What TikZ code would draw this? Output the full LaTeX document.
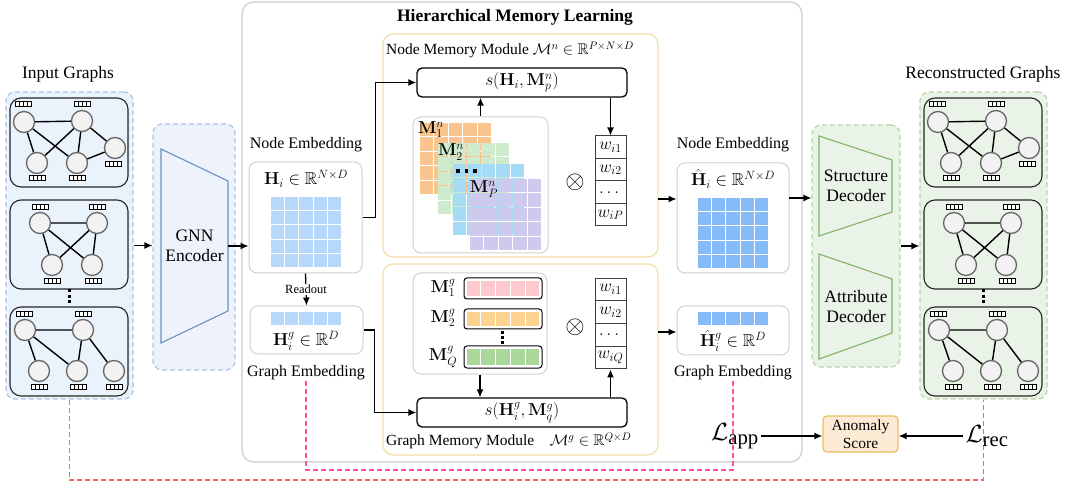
\RequirePackage{fix-cm}
\documentclass[tikz,border=0pt]{standalone}
\usepackage{amsmath,amssymb}
\usepackage[no-math]{fontspec}
\setmainfont{Liberation Serif}
\usetikzlibrary{arrows.meta,calc}

\definecolor{inbg}{HTML}{EAF2FC}
\definecolor{inbd}{HTML}{ABC6E8}
\definecolor{encbg}{HTML}{EEF3FB}
\definecolor{encbd}{HTML}{6C8EBF}
\definecolor{recbg}{HTML}{EAF3E7}
\definecolor{recbd}{HTML}{B5D6A7}
\definecolor{decbd}{HTML}{82B366}
\definecolor{hmlbd}{HTML}{CCCCCC}
\definecolor{modbd}{HTML}{F3DFA6}
\definecolor{embbd}{HTML}{D0D0D0}
\definecolor{hcell}{HTML}{B8D8FB}
\definecolor{hhcell}{HTML}{85BCF8}
\definecolor{orcell}{HTML}{FAC48E}
\definecolor{grcell}{HTML}{CFEBCD}
\definecolor{blcell}{HTML}{A6DBF6}
\definecolor{pucell}{HTML}{CDCAEE}
\definecolor{pkcell}{HTML}{FDC9CD}
\definecolor{yecell}{HTML}{FCD28E}
\definecolor{gncell}{HTML}{A9D79C}
\definecolor{anbg}{HTML}{FDEBD6}
\definecolor{anbd}{HTML}{E8BE63}
\definecolor{pinkl}{HTML}{FF4DA6}
\definecolor{redl}{HTML}{FF6060}
\definecolor{nodefill}{HTML}{F2F2F2}
\definecolor{nodebd}{HTML}{666666}

\newcommand\fA{\fontsize{17.5}{20}\selectfont}
\newcommand\fB{\fontsize{16}{18}\selectfont}
\newcommand\fM{\fontsize{17.28}{20}\selectfont}
\newcommand\fC{\fontsize{15.5}{17}\selectfont}
\newcommand\fW{\fontsize{17.28}{20}\selectfont}

% x0 y0 cols rows w h color
\newcommand\cellgrid[7]{%
  \foreach \ii in {1,...,#3}{\foreach \jj in {1,...,#4}{%
    \fill[#7] ({#1+(\ii-1)*#5+0.6},{#2+(\jj-1)*#6+0.6}) rectangle ++({#5-1.2},{#6-1.2});}}}

\tikzset{
  arr/.style={-{Latex[length=8pt,width=7pt]}, line width=1.3pt},
  cont/.style 2 args={draw=#2, fill=#1, dash pattern=on 5pt off 3pt, line width=1.2pt, rounded corners=9pt, inner sep=0},
  gbox/.style={draw=black!85, line width=1.1pt, rounded corners=11pt, fill=#1, inner sep=0, minimum width=118pt, minimum height=89pt},
  gn/.style={circle, draw=nodebd, fill=nodefill, line width=1.3pt, minimum size=21pt, inner sep=0},
  ge/.style={line width=1.4pt},
  embbox/.style={draw=embbd, line width=1pt, rounded corners=8pt, fill=white, inner sep=0},
  modbox/.style={draw=modbd, line width=1.2pt, rounded corners=10pt, inner sep=0},
  sbox/.style={draw=black, line width=1.3pt, rounded corners=5pt, inner sep=0, minimum width=210pt, minimum height=29pt},
  wcell/.style={draw=black!75, line width=1pt, minimum width=31pt, inner sep=0},
  wtxt/.style={font=\fW, inner sep=0},
  bar/.style={draw=black, line width=1pt, rounded corners=3pt, inner sep=0, minimum width=78pt},
  lbl/.style={font=\fA, inner sep=1pt},
  lblb/.style={font=\fB, inner sep=1pt},
  mth/.style={font=\fM, inner sep=0.5pt},
  mlb/.style={font=\fM, inner sep=0pt},
  pinkd/.style={draw=pinkl, line width=1.4pt, dash pattern=on 5pt off 3pt},
  redd/.style={draw=redl, line width=1.4pt, dash pattern=on 5pt off 3pt},
  tagpic/.pic={
    \draw[line width=0.9pt, fill=white] (-8,-2.5) rectangle (8,2.5);
    \foreach \k in {-4,0,4} \draw[line width=0.7pt] (\k,-2.5) -- (\k,2.5);
  }
}

\newcommand\graphset[3]{%
\begin{scope}[xshift=#2pt]
  \node[gbox=#3] (#1g1) at (69,142.5) {};
  \node[gbox=#3] (#1g2) at (69,244.5) {};
  \node[gbox=#3] (#1g3) at (69,351.5) {};
  % graph 1
  \node[gn] (#1a1) at (24,122) {};
  \node[gn] (#1a2) at (82,121) {};
  \node[gn] (#1a3) at (115,148) {};
  \node[gn] (#1a4) at (37,163) {};
  \node[gn] (#1a5) at (77,163) {};
  \draw[ge] (#1a1) -- (#1a2) (#1a1) -- (#1a4) (#1a1) -- (#1a5) (#1a2) -- (#1a4)
            (#1a2) -- (#1a5) (#1a2) -- (#1a3) (#1a5) -- (#1a3);
  \pic at (23,104) {tagpic}; \pic at (82,104) {tagpic}; \pic at (113,164) {tagpic};
  \pic at (37,178) {tagpic}; \pic at (77,178) {tagpic};
  % graph 2
  \node[gn] (#1b1) at (40,223) {};
  \node[gn] (#1b2) at (97,223) {};
  \node[gn] (#1b3) at (52,265) {};
  \node[gn] (#1b4) at (92,265) {};
  \draw[ge] (#1b1) -- (#1b2) (#1b1) -- (#1b3) (#1b1) -- (#1b4) (#1b2) -- (#1b3) (#1b2) -- (#1b4);
  \pic at (40,207) {tagpic}; \pic at (97,207) {tagpic};
  \pic at (52,281) {tagpic}; \pic at (93,281) {tagpic};
  % dots
  \fill (67.5,289.5) rectangle +(3,3);
  \fill (67.5,295) rectangle +(3,3);
  \fill (67.5,300.5) rectangle +(3,3);
  % graph 3
  \node[gn] (#1c1) at (25,330) {};
  \node[gn] (#1c2) at (83,330) {};
  \node[gn] (#1c3) at (39,371) {};
  \node[gn] (#1c4) at (77,371) {};
  \node[gn] (#1c5) at (114,371) {};
  \draw[ge] (#1c1) -- (#1c2) (#1c1) -- (#1c3) (#1c1) -- (#1c4) (#1c2) -- (#1c4) (#1c2) -- (#1c5);
  \pic at (24,314) {tagpic}; \pic at (83,314) {tagpic};
  \pic at (39,387) {tagpic}; \pic at (78,387) {tagpic}; \pic at (114,387) {tagpic};
\end{scope}}

\begin{document}
\begin{tikzpicture}[x=1pt,y=-1pt]
\useasboundingbox (0,0) rectangle (1072,489);

% ===== big box =====
\node[draw=hmlbd, line width=1.2pt, rounded corners=12pt, minimum width=560pt, minimum height=460pt, inner sep=0] (hml) at (522,232) {};
\node[font=\bfseries\fA] (title) at (515,17) {Hierarchical Memory Learning};

% ===== dashed loss lines =====
\coordinate (pk) at (0,470);
\coordinate (rk) at (0,480);

% ===== input graphs =====
\node[lbl] (inl) at (68,74) {Input Graphs};
\node[cont={inbg}{inbd}, minimum width=127pt, minimum height=307pt] (incont) at (69.5,245.5) {};
\graphset{in}{0}{inbg}

% ===== encoder =====
\node[cont={encbg}{inbd}, minimum width=82pt, minimum height=246pt] (enccont) at (194,247) {};
\draw[draw=encbd, line width=1.1pt] (161,149) -- (228,181) -- (228,311) -- (161,343) -- cycle;
\node[font=\fA, align=center] (enc) at (194.5,246) {GNN\\Encoder};
\coordinate (encR) at (228,246);

% ===== node embedding =====
\node[lblb] (nembl) at (306,145) {Node Embedding};
\node[embbox, minimum width=113pt, minimum height=111pt] (nemb) at (305.5,217.5) {};
\node[mth] (nembm) at (306,179) {$\mathbf{H}_i\in\mathbb{R}^{N\times D}$};
\cellgrid{270}{196}{5}{5}{14.4}{14.4}{hcell}

% ===== graph embedding =====
\node[embbox, minimum width=113pt, minimum height=48pt] (gemb) at (306.5,330) {};
\cellgrid{270}{311.5}{5}{1}{14.4}{14.4}{hcell}
\node[mth] (gembm) at (306,341) {$\mathbf{H}_i^g\in\mathbb{R}^D$};
\node[lblb] (gembl) at (306,373) {Graph Embedding};

% ===== node memory module =====
\node[modbox, minimum width=275pt, minimum height=223pt] (nmod) at (520.5,145.5) {};
\node[font=\fC, anchor=west, inner sep=0] (nmodl) at (386,50) {Node Memory Module $\mathcal{M}^n\in\mathbb{R}^{P\times N\times D}$};
\node[sbox] (sn) at (522,82.5) {};
\node[mth] (snt) at (sn) {$s(\mathbf{H}_i,\mathbf{M}_p^n)$};
\node[embbox, minimum width=135pt, minimum height=136pt] (mstack) at (480.5,185) {};
\cellgrid{419}{122}{5}{5}{14.6}{14.6}{orcell}
\cellgrid{437}{142}{5}{5}{14.6}{14.6}{grcell}
\cellgrid{452}{163}{5}{5}{14.6}{14.6}{blcell}
\cellgrid{469}{178}{5}{5}{14.6}{14.6}{pucell}
\node[mlb] (m1n) at (431,129.5) {$\mathbf{M}_1^n$};
\node[mlb] (m2n) at (451,152) {$\mathbf{M}_2^n$};
\fill (456,169.5) rectangle +(3.5,3.5);
\fill (464.5,169.5) rectangle +(3.5,3.5);
\fill (473,169.5) rectangle +(3.5,3.5);
\node[mlb] (mpn) at (484,189) {$\mathbf{M}_P^n$};
\node[font=\fontsize{24.88}{26}\selectfont, inner sep=0] (otn) at (575,182) {$\otimes$};
\node[wcell, minimum height=22.5pt] (wn1) at (610.5,147.25) {};
\node[wcell, minimum height=22.5pt] (wn2) at (610.5,169.75) {};
\node[wcell, minimum height=22.5pt] (wn3) at (610.5,192.25) {};
\node[wcell, minimum height=22.5pt] (wn4) at (610.5,214.75) {};
\node[wtxt] (wn1t) at (wn1) {$w_{i1}$};
\node[wtxt] (wn2t) at (wn2) {$w_{i2}$};
\node[wtxt] (wn3t) at (wn3) {$\dots$};
\node[wtxt] (wn4t) at (wn4) {$w_{iP}$};

\draw[arr] (nemb.east) -- ++(13,0) |- (sn.west);
\draw[arr] (mstack.north) -- (mstack.north |- sn.south);
\draw[arr] (sn.south -| wn1.north) -- (wn1.north);

% ===== graph memory module =====
\node[modbox, minimum width=275pt, minimum height=191pt] (gmod) at (520.5,359.5) {};
\node[font=\fC, anchor=west, inner sep=0] (gmodl) at (386,441) {Graph Memory Module\quad$\mathcal{M}^g\in\mathbb{R}^{Q\times D}$};
\node[embbox, minimum width=134pt, minimum height=101pt] (gstack) at (480,323.5) {};
\node[bar, minimum height=21pt] (bar1) at (503,288.5) {};
\node[bar, minimum height=20pt] (bar2) at (503,319) {};
\node[bar, minimum height=22pt] (bar3) at (503,357) {};
\cellgrid{466}{280.2}{5}{1}{14.8}{16.8}{pkcell}
\cellgrid{466}{311.2}{5}{1}{14.8}{15.8}{yecell}
\cellgrid{466}{348.2}{5}{1}{14.8}{17.8}{gncell}
\node[mlb] (m1g) at (443,288) {$\mathbf{M}_1^g$};
\node[mlb] (m2g) at (443,318) {$\mathbf{M}_2^g$};
\node[mlb] (mqg) at (443,357) {$\mathbf{M}_Q^g$};
\fill (500.5,331) rectangle +(3,3);
\fill (500.5,336) rectangle +(3,3);
\fill (500.5,341) rectangle +(3,3);
\node[font=\fontsize{24.88}{26}\selectfont, inner sep=0] (otg) at (575,327) {$\otimes$};
\node[wcell, minimum height=22.75pt] (wg1) at (610.5,289.4) {};
\node[wcell, minimum height=22.75pt] (wg2) at (610.5,312.1) {};
\node[wcell, minimum height=22.75pt] (wg3) at (610.5,334.9) {};
\node[wcell, minimum height=22.75pt] (wg4) at (610.5,357.6) {};
\node[wtxt] (wg1t) at (wg1) {$w_{i1}$};
\node[wtxt] (wg2t) at (wg2) {$w_{i2}$};
\node[wtxt] (wg3t) at (wg3) {$\dots$};
\node[wtxt] (wg4t) at (wg4) {$w_{iQ}$};
\node[sbox] (sg) at (522,412.5) {};
\node[mth] (sgt) at (sg) {$s(\mathbf{H}_i^g,\mathbf{M}_q^g)$};

\draw[arr] (gemb.east) -- ++(11,0) |- (sg.west);
\draw[arr] (gstack.south) -- (gstack.south |- sg.north);
\draw[arr] (sg.north -| wg4.south) -- (wg4.south);

% readout
\draw[arr] (nemb.south) -- (gemb.north) node[midway, fill=white, inner sep=1pt, font=\fontsize{12.5}{14}\selectfont] (rdo) {Readout};

% ===== reconstructed embeddings =====
\node[lblb] (hnembl) at (733,145) {Node Embedding};
\node[embbox, minimum width=112pt, minimum height=110pt] (hnemb) at (733,218) {};
\node[mth] (hnembm) at (733,179) {$\hat{\mathbf{H}}_i\in\mathbb{R}^{N\times D}$};
\cellgrid{697}{197}{5}{5}{14.4}{14.4}{hhcell}
\node[embbox, minimum width=112pt, minimum height=49pt] (hgemb) at (733,330.5) {};
\cellgrid{697}{311.5}{5}{1}{14.4}{14.4}{hhcell}
\node[mth] (hgembm) at (733,341) {$\hat{\mathbf{H}}_i^g\in\mathbb{R}^D$};
\node[lblb] (hgembl) at (733,373) {Graph Embedding};

\coordinate (o1) at (658,199);
\draw[arr] (o1) -- (o1 -| hnemb.west);
\coordinate (o3) at (658,332);
\draw[arr] (o3) -- (o3 -| hgemb.west);

% ===== decoders =====
\node[cont={recbg}{recbd}, minimum width=88pt, minimum height=242pt] (deccont) at (856,246) {};
\draw[draw=decbd, line width=1.1pt] (819,136) -- (892,160) -- (892,212) -- (819,236) -- cycle;
\node[font=\fA, align=center] (sdec) at (856,186) {Structure\\Decoder};
\draw[draw=decbd, line width=1.1pt] (819,254) -- (892,279) -- (892,333) -- (819,359) -- cycle;
\node[font=\fA, align=center] (adec) at (856,307) {Attribute\\Decoder};
\coordinate (o2) at (789,198);
\draw[arr] (o2) -- (o2 -| deccont.west);

% ===== reconstructed graphs =====
\node[lbl] (recl) at (983,74) {Reconstructed Graphs};
\node[cont={recbg}{recbd}, minimum width=127pt, minimum height=307pt] (reccont) at (983.5,245.5) {};
\graphset{re}{914}{recbg}

% ===== connectors =====
\draw[arr] (incont.east) -- (incont.east -| enccont.west);
\draw[arr] (encR) -- (encR -| nemb.west);
\draw[arr] (deccont.east) -- (deccont.east -| reccont.west);

% dashed lines
\draw[pinkd] (gembl.south) -- (gembl.south |- pk) -| (hgembl.south);
\draw[redd] (incont.south) -- (incont.south |- rk) -| (reccont.south);

% ===== anomaly =====
\node[draw=anbd, fill=anbg, line width=1.3pt, rounded corners=4pt, minimum width=75pt, minimum height=36pt, inner sep=0, align=center, font=\fontsize{15.5}{18}\selectfont] (anom) at (860.5,434) {Anomaly\\Score};
\node[font=\fontsize{24.88}{26}\selectfont, inner sep=2pt] (lapp) at (735,436) {$\mathcal{L}_{\text{app}}$};
\node[font=\fontsize{24.88}{26}\selectfont, inner sep=2pt] (lrec) at (987,436) {$\mathcal{L}_{\text{rec}}$};
\draw[arr] (lapp.east) -- (lapp.east -| anom.west);
\draw[arr] (lrec.west) -- (lrec.west -| anom.east);

\end{tikzpicture}
\end{document}
